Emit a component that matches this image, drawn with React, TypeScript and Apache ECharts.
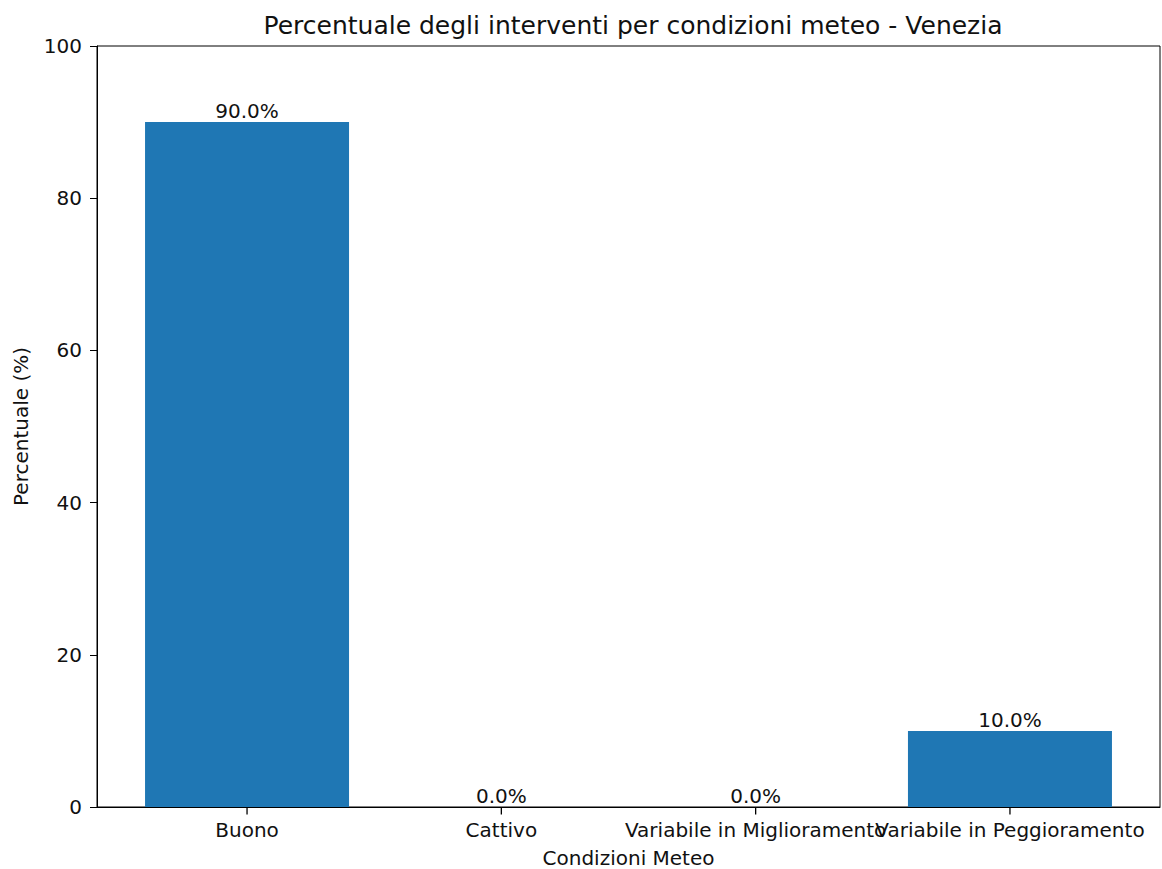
import React, { useEffect, useRef } from "react";
import * as echarts from "echarts";

const categories = ["Buono", "Cattivo", "Variabile in Miglioramento", "Variabile in Peggioramento"];
const percentages = [90.0, 0.0, 0.0, 10.0];
const yTicks = [0, 20, 40, 60, 80, 100];
const positions = [0, 1, 2, 3];

const FONT = "DejaVu Sans";
const TXT = "#111";

export default function App() {
  const ref = useRef<HTMLDivElement>(null);
  useEffect(() => {
    if (!ref.current) return;
    const chart = echarts.init(ref.current, null, { renderer: "svg" });
    chart.setOption({
      animation: false,
      backgroundColor: "#ffffff",
      textStyle: { fontFamily: FONT },
      title: {
        text: "Percentuale degli interventi per condizioni meteo - Venezia",
        left: 628,
        textAlign: "center",
        top: 8,
        textStyle: { fontFamily: FONT, fontSize: 25, fontWeight: "normal", color: TXT },
      },
      grid: {
        left: 97,
        right: 2,
        top: 46,
        bottom: 62,
        outerBoundsMode: "none",
        containLabel: false,
        show: true,
        borderColor: "#000",
        borderWidth: 1,
        backgroundColor: "transparent",
      },
      xAxis: {
        type: "value",
        min: -0.59,
        max: 3.59,
        name: "Condizioni Meteo",
        nameLocation: "middle",
        nameGap: 41,
        nameTextStyle: { fontFamily: FONT, fontSize: 20, lineHeight: 20, color: TXT },
        splitLine: { show: false },
        axisLine: { show: true, onZero: false, lineStyle: { color: "#000", width: 1 } },
        axisTick: { show: false },
        axisLabel: { show: false },
      },
      yAxis: {
        type: "value",
        min: 0,
        max: 100,
        interval: 20,
        name: "Percentuale (%)",
        nameLocation: "middle",
        nameGap: 66,
        nameTextStyle: { fontFamily: FONT, fontSize: 20, color: TXT },
        splitLine: { show: false },
        axisLine: { show: true, onZero: false, lineStyle: { color: "#000", width: 1 } },
        axisTick: { show: true, length: 7, lineStyle: { color: "#000" } },
        axisLabel: {
          fontFamily: FONT,
          fontSize: 20,
          color: TXT,
          margin: 15,
          showMinLabel: true,
          showMaxLabel: true,
          formatter: (v: number) => (yTicks.includes(v) ? String(v) : ""),
        },
      },
      series: [
        {
          type: "bar",
          data: percentages.map((p, i) => [positions[i], p]),
          barWidth: 204,
          itemStyle: { color: "#1f77b4" },
          label: {
            show: true,
            position: "top",
            distance: 1,
            fontFamily: FONT,
            fontSize: 20,
            color: TXT,
            formatter: (p: any) => `${p.value[1].toFixed(1)}%`,
          },
        },
        {
          // x tick marks and category tick labels
          type: "scatter",
          clip: false,
          silent: true,
          data: positions.map((x) => [x, 0]),
          symbol: "rect",
          symbolSize: [1.3, 7],
          symbolOffset: [0, 4],
          itemStyle: { color: "#000", opacity: 1 },
          label: {
            show: true,
            position: "bottom",
            distance: 5,
            fontFamily: FONT,
            fontSize: 20,
            color: TXT,
            opacity: 1,
            formatter: (p: any) => categories[p.dataIndex],
          },
          labelLayout: { hideOverlap: false },
          z: 5,
        },
      ],
    });
    return () => chart.dispose();
  }, []);
  return <div ref={ref} style={{ width: 1162, height: 869, position: "absolute", left: 0, top: 0 }} />;
}
